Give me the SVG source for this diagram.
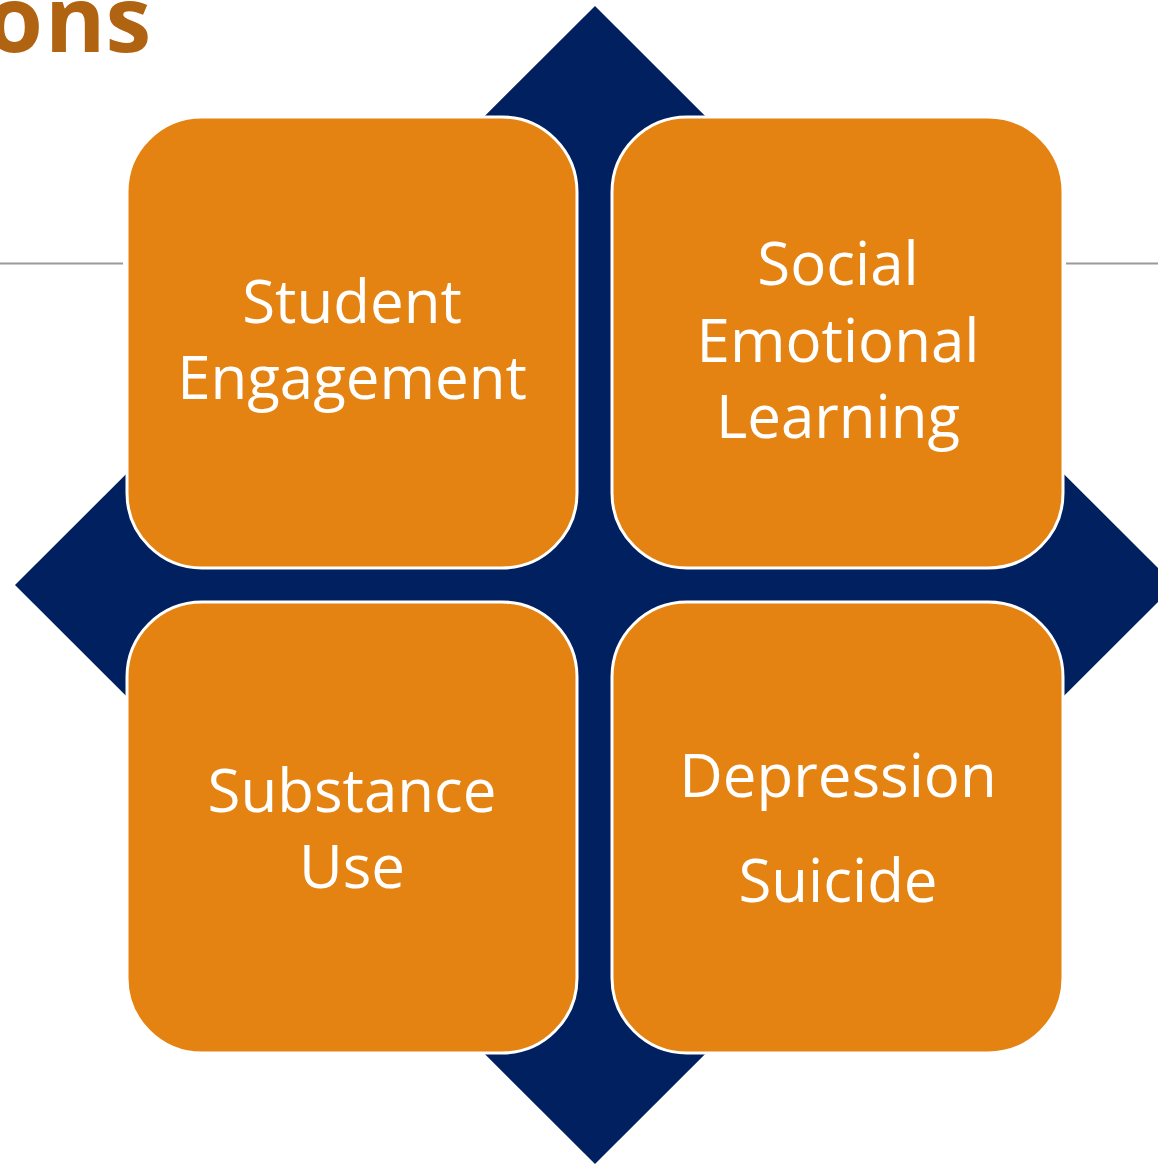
<svg xmlns="http://www.w3.org/2000/svg" width="1158" height="1165" viewBox="0 0 1158 1165">
<style>
.box{fill:#E48312;stroke:#FFFFFF;stroke-width:3}
.lbl{font-family:"Open Sans","Noto Sans","Liberation Sans",sans-serif;font-size:60px;fill:#FFFFFF;text-anchor:middle}
.rule{stroke:#9A9A9A;stroke-width:2}
</style>
<rect width="1158" height="1165" fill="#FFFFFF"/>
<text y="52" font-family="'Open Sans','Noto Sans','Liberation Sans',sans-serif" font-weight="bold" font-size="92" fill="#B06311"><tspan x="-14">o</tspan><tspan x="45">ns</tspan></text>
<line class="rule" x1="0" y1="263.5" x2="123" y2="263.5"/>
<line class="rule" x1="1066" y1="263.5" x2="1158" y2="263.5"/>
<polygon id="diamond" points="595,6 1175,585 595,1164 15,585" fill="#002060"/>
<g id="connectors"></g>
<g id="node-student-engagement">
<rect class="box" x="127" y="117" width="450" height="451" rx="75" ry="75"/>
<text class="lbl" x="352" y="323">Student</text>
<text class="lbl" x="352" y="399">Engagement</text>
</g>
<g id="node-sel">
<rect class="box" x="612" y="117" width="451" height="451" rx="75" ry="75"/>
<text class="lbl" x="838" y="285">Social</text>
<text class="lbl" x="838" y="362">Emotional</text>
<text class="lbl" x="838" y="438">Learning</text>
</g>
<g id="node-substance-use">
<rect class="box" x="127" y="602" width="450" height="451" rx="75" ry="75"/>
<text class="lbl" x="352" y="812">Substance</text>
<text class="lbl" x="352" y="888">Use</text>
</g>
<g id="node-depression-suicide">
<rect class="box" x="612" y="602" width="451" height="451" rx="75" ry="75"/>
<text class="lbl" x="838" y="797">Depression</text>
<text class="lbl" x="838" y="902">Suicide</text>
</g>
</svg>
